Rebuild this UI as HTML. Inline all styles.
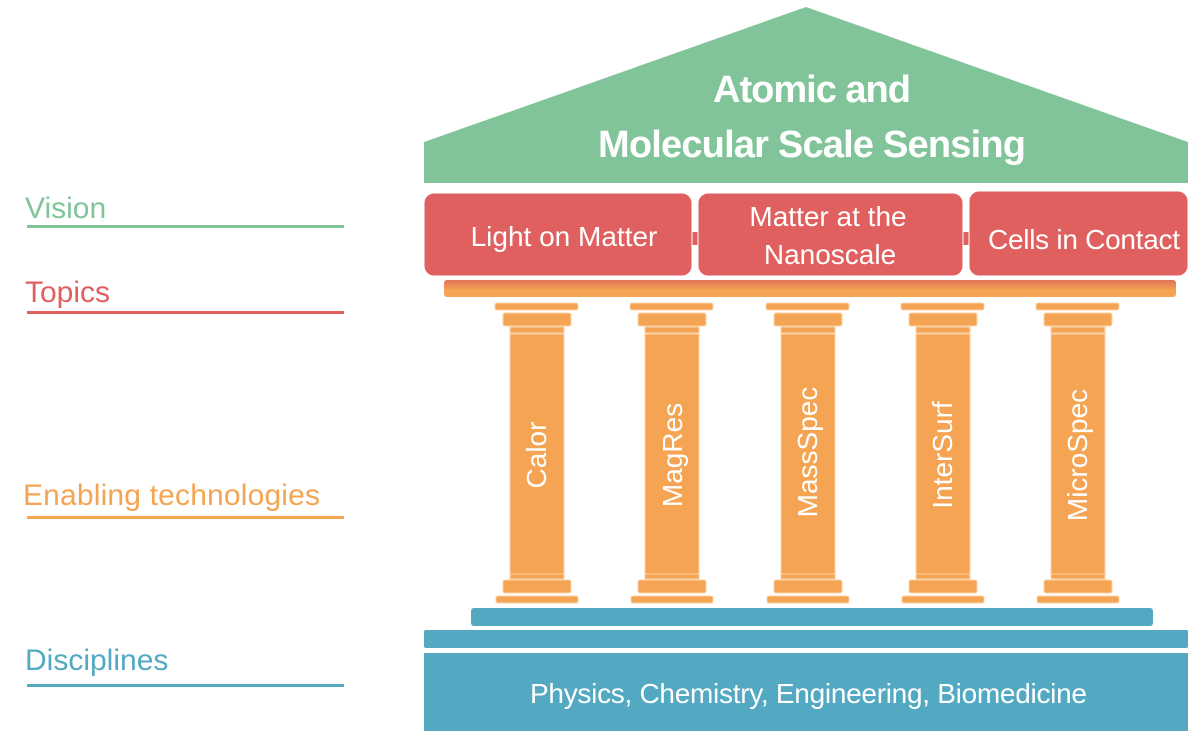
<!DOCTYPE html>
<html><head><meta charset="utf-8"><style>body{margin:0;background:#fff}svg{display:block}text{font-family:"Liberation Sans",sans-serif}</style></head><body>
<svg width="1200" height="732" viewBox="0 0 1200 732">
<defs><linearGradient id="g" x1="0" y1="0" x2="0" y2="1"><stop offset="0" stop-color="#e0705a"/><stop offset="0.6" stop-color="#f4a452"/></linearGradient></defs>
<g font-size="30">
<text x="25" y="218" fill="#82c49a">Vision</text><rect x="27" y="225" width="317" height="3" fill="#82c49a"/>
<text x="25" y="302" fill="#e0605f">Topics</text><rect x="27" y="311" width="317" height="3" fill="#e0605f"/>
<text x="23" y="505" fill="#f4a452" textLength="297">Enabling technologies</text><rect x="27" y="516" width="317" height="3" fill="#f4a452"/>
<text x="25" y="670" fill="#52a9c1">Disciplines</text><rect x="27" y="684" width="317" height="3" fill="#52a9c1"/>
</g>
<polygon points="424,183 424,142 806,7 1188,142 1188,183" fill="#82c49a"/>
<text x="713" y="102" font-size="38" font-weight="bold" fill="#fff" textLength="198">Atomic and</text>
<text x="598" y="157" font-size="38" font-weight="bold" fill="#fff" textLength="428">Molecular Scale Sensing</text>
<rect x="690" y="232" width="12" height="13" fill="#e0605f"/><rect x="960" y="232" width="12" height="13" fill="#e0605f"/>
<rect x="424" y="193" width="268" height="83" rx="10" fill="#e0605f" stroke="#fff" stroke-width="1"/>
<rect x="698" y="193" width="265" height="83" rx="10" fill="#e0605f" stroke="#fff" stroke-width="1"/>
<rect x="969" y="191" width="219" height="85" rx="10" fill="#e0605f" stroke="#fff" stroke-width="1"/>
<g font-size="28" fill="#fff" text-anchor="middle">
<text x="564" y="246">Light on Matter</text>
<text x="828" y="226">Matter at the</text><text x="830" y="264">Nanoscale</text>
<text x="1084" y="249" textLength="192">Cells in Contact</text>
</g>
<rect x="444" y="280" width="732" height="17" rx="3" fill="url(#g)"/>
<g fill="#f4a452" stroke="#fbd3a8" stroke-width="1">
<g id="p">
<rect x="495" y="303" width="83" height="7" rx="2"/>
<rect x="503" y="313" width="68" height="13" rx="2"/>
<rect x="510" y="327" width="54" height="6"/>
<rect x="510" y="334" width="54" height="240"/>
<rect x="510" y="574" width="54" height="5"/>
<rect x="503" y="580" width="68" height="13" rx="2"/>
<rect x="496" y="596" width="82" height="7" rx="2"/>
</g>
<use href="#p" x="135"/><use href="#p" x="271"/><use href="#p" x="406"/><use href="#p" x="541"/>
</g>
<g font-size="28" fill="#fff" text-anchor="middle">
<text transform="translate(546,455) rotate(-90)">Calor</text>
<text transform="translate(682,455) rotate(-90)">MagRes</text>
<text transform="translate(817,452) rotate(-90)">MassSpec</text>
<text transform="translate(952,455) rotate(-90)">InterSurf</text>
<text transform="translate(1087,455) rotate(-90)">MicroSpec</text>
</g>
<rect x="471" y="608" width="682" height="18" rx="3" fill="#52a9c1"/>
<rect x="424" y="630" width="764" height="18" rx="2" fill="#52a9c1"/>
<rect x="424" y="653" width="764" height="78" fill="#52a9c1"/>
<text x="530" y="703" font-size="28" fill="#fff" textLength="557">Physics, Chemistry, Engineering, Biomedicine</text>
</svg>
</body></html>
